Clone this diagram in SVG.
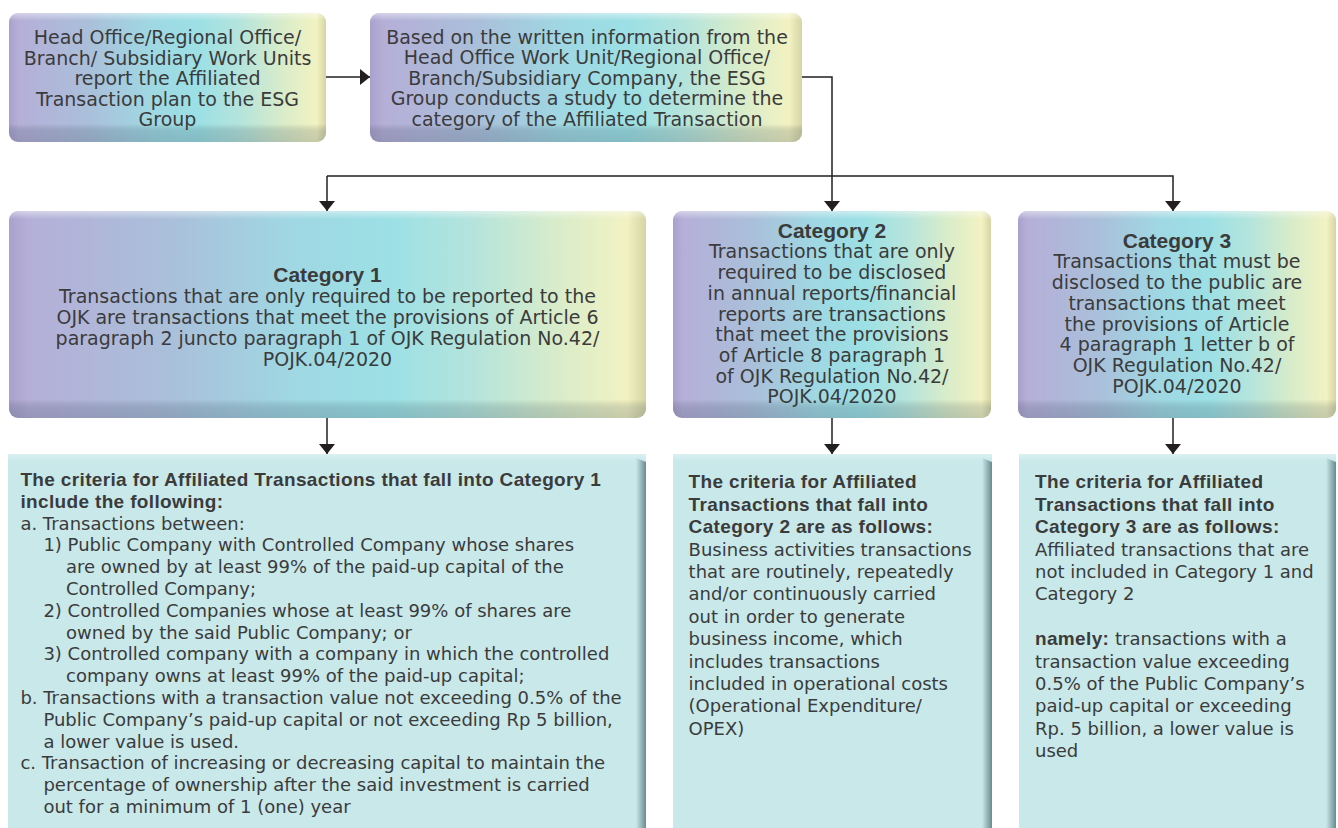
<svg xmlns="http://www.w3.org/2000/svg" width="1338" height="828" viewBox="0 0 1338 828">
<style>
.t{font-family:"DejaVu Sans",sans-serif;font-size:19px;fill:#3b3b3b}
.c{text-anchor:middle}
.tc{font-family:"DejaVu Sans",sans-serif;font-size:18px;fill:#3b3b3b}
.b{font-family:"Liberation Sans",Arial,sans-serif;font-weight:bold;font-size:19px;letter-spacing:0.35px;fill:#3b3b3b}
.bt{font-family:"Liberation Sans",Arial,sans-serif;font-weight:bold;font-size:21px;fill:#3b3b3b;text-anchor:middle}
.ln{fill:none;stroke:#231f20;stroke-width:1.5}
.arr{marker-end:url(#ah)}
</style>
<defs>
<marker id="ah" viewBox="0 0 10 16" refX="10" refY="8" markerWidth="10" markerHeight="16" markerUnits="userSpaceOnUse" orient="auto">
<path d="M0,0 L10,8 L0,16 Z" fill="#231f20"/>
</marker>
<linearGradient id="gH" x1="0" y1="0" x2="1" y2="0">
<stop offset="0" stop-color="#a9a1cc"/>
<stop offset="0.03" stop-color="#b5afd8"/>
<stop offset="0.25" stop-color="#aabfda"/>
<stop offset="0.45" stop-color="#9fd8e3"/>
<stop offset="0.6" stop-color="#9ce0e5"/>
<stop offset="0.73" stop-color="#b5e4dc"/>
<stop offset="0.86" stop-color="#d8ecca"/>
<stop offset="0.97" stop-color="#f2f2c2"/>
<stop offset="1" stop-color="#d4d4a6"/>
</linearGradient>
<linearGradient id="gV1" x1="0" y1="0" x2="0" y2="1">
<stop offset="0" stop-color="#ffffff" stop-opacity="0.45"/>
<stop offset="0.06" stop-color="#ffffff" stop-opacity="0"/>
<stop offset="0.86" stop-color="#000000" stop-opacity="0"/>
<stop offset="0.91" stop-color="#203040" stop-opacity="0.16"/>
<stop offset="1" stop-color="#203040" stop-opacity="0.2"/>
</linearGradient>
<linearGradient id="gV2" x1="0" y1="0" x2="0" y2="1">
<stop offset="0" stop-color="#ffffff" stop-opacity="0.45"/>
<stop offset="0.04" stop-color="#ffffff" stop-opacity="0"/>
<stop offset="0.91" stop-color="#000000" stop-opacity="0"/>
<stop offset="0.95" stop-color="#203040" stop-opacity="0.16"/>
<stop offset="1" stop-color="#203040" stop-opacity="0.2"/>
</linearGradient>
<linearGradient id="sh" x1="0" y1="0" x2="1" y2="0">
<stop offset="0" stop-color="#c8e8ea"/>
<stop offset="1" stop-color="#6a8a8f"/>
</linearGradient>
<linearGradient id="hl" x1="0" y1="0" x2="0" y2="1">
<stop offset="0" stop-color="#ffffff" stop-opacity="0.35"/>
<stop offset="1" stop-color="#ffffff" stop-opacity="0"/>
</linearGradient>
</defs>
<rect width="1338" height="828" fill="#ffffff"/>

<g id="node-report">
<rect x="9" y="13" width="317" height="129" rx="9" fill="url(#gH)"/>
<rect x="9" y="13" width="317" height="129" rx="9" fill="url(#gV1)"/>
<text class="t c" x="167.5" y="44">Head Office/Regional Office/</text>
<text class="t c" x="167.5" y="64.5">Branch/ Subsidiary Work Units</text>
<text class="t c" x="167.5" y="85">report the Affiliated</text>
<text class="t c" x="167.5" y="105.5">Transaction plan to the ESG</text>
<text class="t c" x="167.5" y="126">Group</text>
</g>

<g id="node-study">
<rect x="370" y="13" width="432" height="129" rx="9" fill="url(#gH)"/>
<rect x="370" y="13" width="432" height="129" rx="9" fill="url(#gV1)"/>
<text class="t c" x="587" y="43.5">Based on the written information from the</text>
<text class="t c" x="587" y="64">Head Office Work Unit/Regional Office/</text>
<text class="t c" x="587" y="84.5">Branch/Subsidiary Company, the ESG</text>
<text class="t c" x="587" y="105">Group conducts a study to determine the</text>
<text class="t c" x="587" y="125.5">category of the Affiliated Transaction</text>
</g>

<g id="node-cat1">
<rect x="9" y="211" width="637" height="207" rx="9" fill="url(#gH)"/>
<rect x="9" y="211" width="637" height="207" rx="9" fill="url(#gV2)"/>
<text class="bt" x="327.5" y="282.3">Category 1</text>
<text class="t c" x="327.5" y="303.2">Transactions that are only required to be reported to the</text>
<text class="t c" x="327.5" y="324">OJK are transactions that meet the provisions of Article 6</text>
<text class="t c" x="327.5" y="344.9">paragraph 2 juncto paragraph 1 of OJK Regulation No.42/</text>
<text class="t c" x="327.5" y="365.7">POJK.04/2020</text>
</g>

<g id="node-cat2">
<rect x="673" y="211" width="318" height="207" rx="9" fill="url(#gH)"/>
<rect x="673" y="211" width="318" height="207" rx="9" fill="url(#gV2)"/>
<text class="bt" x="832" y="237.7">Category 2</text>
<text class="t c" x="832" y="258.4">Transactions that are only</text>
<text class="t c" x="832" y="279.1">required to be disclosed</text>
<text class="t c" x="832" y="299.8">in annual reports/financial</text>
<text class="t c" x="832" y="320.5">reports are transactions</text>
<text class="t c" x="832" y="341.2">that meet the provisions</text>
<text class="t c" x="832" y="361.9">of Article 8 paragraph 1</text>
<text class="t c" x="832" y="382.6">of OJK Regulation No.42/</text>
<text class="t c" x="832" y="403.3">POJK.04/2020</text>
</g>

<g id="node-cat3">
<rect x="1018" y="211" width="318" height="207" rx="9" fill="url(#gH)"/>
<rect x="1018" y="211" width="318" height="207" rx="9" fill="url(#gV2)"/>
<text class="bt" x="1177" y="247.7">Category 3</text>
<text class="t c" x="1177" y="268.4">Transactions that must be</text>
<text class="t c" x="1177" y="289.1">disclosed to the public are</text>
<text class="t c" x="1177" y="309.8">transactions that meet</text>
<text class="t c" x="1177" y="330.5">the provisions of Article</text>
<text class="t c" x="1177" y="351.2">4 paragraph 1 letter b of</text>
<text class="t c" x="1177" y="371.9">OJK Regulation No.42/</text>
<text class="t c" x="1177" y="392.6">POJK.04/2020</text>
</g>

<g id="node-crit1">
<rect x="8" y="454" width="638" height="374" fill="#c8e8ea"/>
<rect x="8" y="454" width="638" height="8" fill="url(#hl)"/>
<path d="M636,458 L646,462 L646,828 L636,828 Z" fill="url(#sh)"/>
<text class="b" x="20.4" y="486">The criteria for Affiliated Transactions that fall into Category 1</text>
<text class="b" x="20.4" y="507.8">include the following:</text>
<text class="tc" x="20.4" y="529.6">a. Transactions between:</text>
<text class="tc" x="43.4" y="551.4">1) Public Company with Controlled Company whose shares</text>
<text class="tc" x="66" y="573.2">are owned by at least 99% of the paid-up capital of the</text>
<text class="tc" x="66" y="595">Controlled Company;</text>
<text class="tc" x="43.4" y="616.8">2) Controlled Companies whose at least 99% of shares are</text>
<text class="tc" x="66" y="638.6">owned by the said Public Company; or</text>
<text class="tc" x="43.4" y="660.4">3) Controlled company with a company in which the controlled</text>
<text class="tc" x="66" y="682.2">company owns at least 99% of the paid-up capital;</text>
<text class="tc" x="20.4" y="704">b. Transactions with a transaction value not exceeding 0.5% of the</text>
<text class="tc" x="43.4" y="725.8">Public Company’s paid-up capital or not exceeding Rp 5 billion,</text>
<text class="tc" x="43.4" y="747.6">a lower value is used.</text>
<text class="tc" x="20.4" y="769.4">c. Transaction of increasing or decreasing capital to maintain the</text>
<text class="tc" x="43.4" y="791.2">percentage of ownership after the said investment is carried</text>
<text class="tc" x="43.4" y="813">out for a minimum of 1 (one) year</text>
</g>

<g id="node-crit2">
<rect x="673" y="454" width="319" height="374" fill="#c8e8ea"/>
<rect x="673" y="454" width="319" height="8" fill="url(#hl)"/>
<path d="M982,458 L992,462 L992,828 L982,828 Z" fill="url(#sh)"/>
<text class="b" x="688.6" y="488.3">The criteria for Affiliated</text>
<text class="b" x="688.6" y="510.7">Transactions that fall into</text>
<text class="b" x="688.6" y="533.1">Category 2 are as follows:</text>
<text class="tc" x="688.6" y="555.5">Business activities transactions</text>
<text class="tc" x="688.6" y="577.9">that are routinely, repeatedly</text>
<text class="tc" x="688.6" y="600.3">and/or continuously carried</text>
<text class="tc" x="688.6" y="622.7">out in order to generate</text>
<text class="tc" x="688.6" y="645.1">business income, which</text>
<text class="tc" x="688.6" y="667.5">includes transactions</text>
<text class="tc" x="688.6" y="689.9">included in operational costs</text>
<text class="tc" x="688.6" y="712.3">(Operational Expenditure/</text>
<text class="tc" x="688.6" y="734.7">OPEX)</text>
</g>

<g id="node-crit3">
<rect x="1019" y="454" width="317" height="374" fill="#c8e8ea"/>
<rect x="1019" y="454" width="317" height="8" fill="url(#hl)"/>
<path d="M1326,458 L1336,462 L1336,828 L1326,828 Z" fill="url(#sh)"/>
<text class="b" x="1035" y="488.3">The criteria for Affiliated</text>
<text class="b" x="1035" y="510.7">Transactions that fall into</text>
<text class="b" x="1035" y="533.1">Category 3 are as follows:</text>
<text class="tc" x="1035" y="555.5">Affiliated transactions that are</text>
<text class="tc" x="1035" y="577.9">not included in Category 1 and</text>
<text class="tc" x="1035" y="600.3">Category 2</text>
<text class="tc" x="1035" y="645.1"><tspan class="b">namely:</tspan> transactions with a</text>
<text class="tc" x="1035" y="667.5">transaction value exceeding</text>
<text class="tc" x="1035" y="689.9">0.5% of the Public Company’s</text>
<text class="tc" x="1035" y="712.3">paid-up capital or exceeding</text>
<text class="tc" x="1035" y="734.7">Rp. 5 billion, a lower value is</text>
<text class="tc" x="1035" y="757.1">used</text>
</g>

<g id="connectors">
<path class="ln arr" d="M326,77 H370"/>
<path class="ln arr" d="M802,77 H832 V211"/>
<path class="ln arr" d="M327,176 H1173 V211"/>
<path class="ln arr" d="M327,176 V211"/>
<path class="ln arr" d="M327,418 V454"/>
<path class="ln arr" d="M832,418 V454"/>
<path class="ln arr" d="M1173,418 V454"/>
</g>
</svg>
